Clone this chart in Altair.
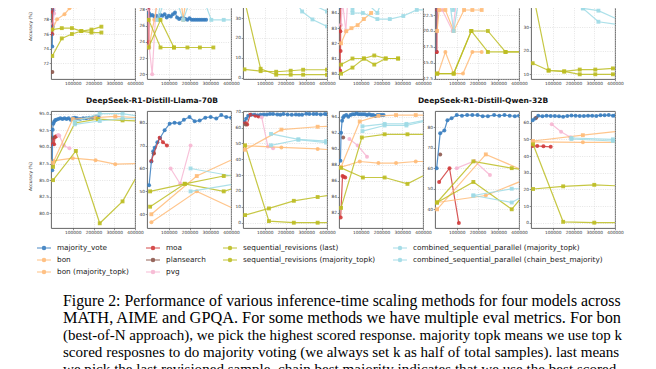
import altair as alt
import pandas as pd

NAMES = {
    "mv": "majority_vote", "bon": "bon", "bont": "bon (majority_topk)", "moa": "moa",
    "ps": "plansearch", "pvg": "pvg", "sl": "sequential_revisions (last)",
    "st": "sequential_revisions (majority_topk)",
    "ct": "combined_sequential_parallel (majority_topk)",
    "cc": "combined_sequential_parallel (chain_best_majority)",
}
COLORS = {"mv": "#3a7ebf", "bon": "#ffbb78", "bont": "#ffbb78", "moa": "#d13b3b",
          "ps": "#8c564b", "pvg": "#f7b6d2", "sl": "#bcbd22", "st": "#bcbd22",
          "ct": "#9edae5", "cc": "#9edae5"}
LEGEND_ROWS = ["mv", "moa", "sl", "ct", "bon", "ps", "st", "cc", "bont", "pvg"]
SQUARES = ["bont", "sl", "st", "ct", "cc"]

X_TICKS = [100000, 200000, 300000, 400000]

# ---------------- top row (bottom parts visible) ----------------
T1 = {
    "mv": [[1000, 3000, 6000, 10000, 20000], [74.3, 77.0, 79.2, 80.4, 82.0]],
    "moa": [[1500, 3000, 6000], [76.0, 79.0, 82.0]],
    "ps": [[1500], [70.8]],
    "pvg": [[5000, 10000, 20000], [77.4, 78.8, 81.0]],
    "bon": [[2000, 24000, 60000, 84000, 117000, 149000], [76.6, 78.0, 78.7, 79.5, 79.8, 80.0]],
    "ct": [[40000, 80000], [80.2, 81.5]],
    "sl": [[1000, 47000, 96000, 141000, 190000, 238000], [73.0, 75.4, 76.0, 76.4, 76.2, 76.2]],
    "st": [[1000, 47000, 96000, 141000, 190000, 238000], [76.6, 76.8, 76.8, 76.4, 76.6, 77.0]],
}
T2 = {
    "mv": [[2000, 5000, 10000, 20000, 30000, 40000, 50000, 60000, 70000, 80000, 90000, 100000,
            110000, 120000, 130000, 140000, 150000, 160000, 170000, 180000, 190000, 200000,
            210000, 220000, 230000, 240000, 250000, 260000, 270000, 280000],
           [28.5, 27.5, 27.2, 27.3, 27.1, 27.2, 27.0, 27.3, 27.2, 27.4, 27.0, 27.2, 27.1, 27.4,
            27.6, 27.0, 26.8, 26.9, 27.0, 26.8, 26.7, 26.9, 26.7, 26.7, 26.7, 26.7, 26.7, 26.7,
            26.7, 26.7]],
    "moa": [[1500, 2500, 3500, 4500, 5500, 6500], [26.7, 23.3, 28.5, 24.0, 29.5, 31.0]],
    "pvg": [[3000, 6000, 20000, 35000, 45000], [28.0, 23.3, 20.0, 26.7, 30.5]],
    "bon": [[5000, 30000, 60000], [23.5, 26.7, 31.0]],
    "bont": [[150000, 170000, 190000], [31.0, 26.7, 31.0]],
    "ct": [[50000, 105000, 170000, 235000, 305000, 365000, 420000],
           [26.7, 31.5, 26.7, 31.5, 26.7, 26.7, 26.7]],
    "cc": [[45000, 75000], [26.7, 30.5]],
    "sl": [[3000, 60000, 125000, 190000, 250000, 315000], [26.7, 23.3, 23.3, 23.3, 23.3, 23.3]],
    "st": [[3000, 60000, 125000], [23.3, 26.7, 23.3]],
}
T3 = {
    "ps": [[2000], [36.7]],
    "sl": [[0, 80000, 155000, 225000, 285000, 400000], [40.0, 4.5, 1.5, 1.5, 1.5, 1.5]],
    "st": [[2000, 80000, 155000, 225000, 285000, 400000], [4.2, 3.3, 3.0, 3.5, 4.0, 4.0]],
    "ct": [[160000, 220000, 280000, 330000, 400000], [42.0, 37.3, 36.5, 36.8, 33.3]],
    "cc": [[200000, 280000, 330000, 400000], [46.0, 33.3, 29.3, 25.8]],
}
T4 = {
    "mv": [[1000, 3000], [84.4, 86.0]],
    "moa": [[1000, 1500, 2500, 3500], [80.2, 82.8, 81.5, 85.5]],
    "ps": [[2000], [84.6]],
    "pvg": [[4000, 12000, 28000, 40000], [83.2, 84.7, 82.8, 85.5]],
    "bont": [[5000, 30000, 55000, 85000, 115000, 150000], [82.0, 82.8, 83.0, 83.2, 83.6, 84.0]],
    "cc": [[60000, 110000, 180000, 240000, 305000, 370000, 420000],
           [84.0, 84.0, 83.6, 83.6, 83.8, 84.2, 84.2]],
    "ct": [[60000, 100000, 140000, 180000, 220000], [84.2, 85.2, 84.5, 84.0, 85.5]],
    "sl": [[5000, 60000, 115000, 165000, 220000, 280000], [80.6, 81.0, 81.0, 81.2, 81.0, 81.0]],
    "st": [[5000, 60000, 115000, 165000, 220000, 280000], [80.0, 80.4, 81.0, 80.6, 81.0, 81.0]],
}
T5 = {
    "mv": [[1000, 2000, 3000, 5000], [16.7, 20.0, 23.3, 26.7]],
    "moa": [[2000, 4000, 5000, 7000], [16.7, 16.7, 23.3, 26.7]],
    "ps": [[8000], [23.3]],
    "pvg": [[10000, 30000, 80000, 100000], [23.3, 23.3, 20.0, 25.0]],
    "bon": [[10000, 45000, 85000, 130000, 175000, 220000], [13.3, 16.7, 13.3, 13.3, 16.7, 16.7]],
    "bont": [[5000, 15000, 45000, 85000, 135000, 175000, 220000],
             [20.0, 23.3, 23.3, 20.0, 23.3, 23.3, 23.3]],
    "ct": [[82000, 100000], [23.3, 26.0]],
    "cc": [[60000, 85000, 115000], [26.0, 20.0, 26.0]],
    "sl": [[5000, 85000, 170000, 250000, 335000, 430000], [13.3, 13.3, 20.0, 20.0, 16.7, 16.7]],
    "st": [[5000, 85000, 170000, 250000, 335000, 430000], [13.3, 13.3, 20.0, 16.7, 16.7, 16.7]],
}
T6 = {
    "sl": [[3000, 80000, 155000, 230000, 305000, 390000, 430000],
           [45.0, 11.6, 11.2, 10.0, 10.0, 10.0, 10.0]],
    "st": [[3000, 80000, 155000, 230000, 305000, 390000, 430000],
           [14.7, 11.6, 11.2, 12.0, 12.0, 12.5, 12.7]],
    "ct": [[190000, 245000, 320000, 420000], [43.0, 38.0, 37.0, 33.0]],
    "cc": [[245000, 320000, 420000], [38.0, 32.3, 31.0]],
}

# ---------------- bottom row ----------------
B1 = {
    "mv": [[1000, 3000, 6000, 10000, 15000, 20000, 30000, 40000, 50000, 60000, 70000, 80000,
            90000, 100000, 110000, 120000, 135000, 150000, 165000, 180000, 195000, 210000, 225000],
           [86.5, 92.6, 93.5, 93.8, 94.0, 94.1, 94.2, 94.3, 94.2, 94.3, 94.2, 94.3, 94.1, 94.3,
            94.4, 94.3, 94.2, 94.3, 94.3, 94.4, 94.4, 94.5, 94.5]],
    "moa": [[2000, 5000, 10000, 15000, 20000], [90.4, 91.4, 90.4, 91.5, 91.6]],
    "ps": [[3000, 8000], [91.4, 91.4]],
    "pvg": [[30000, 35000, 57000, 84000], [91.8, 91.7, 90.2, 89.8]],
    "bon": [[5000, 100000, 210000, 305000, 420000], [87.9, 88.3, 88.0, 87.4, 87.5]],
    "bont": [[5000, 100000, 210000, 305000, 420000], [87.6, 94.2, 94.4, 94.6, 94.4]],
    "sl": [[5000, 115000, 230000, 340000, 460000], [85.0, 89.4, 78.5, 81.8, 88.4]],
    "st": [[5000, 110000, 220000, 340000, 420000], [87.0, 93.6, 94.2, 94.0, 93.9]],
    "ct": [[110000, 230000, 340000, 420000], [93.8, 95.0, 95.0, 94.6]],
    "cc": [[110000, 230000, 340000, 420000], [93.4, 93.9, 94.3, 94.2]],
}
B2 = {
    "mv": [[5000, 16000, 25000, 32000, 45000, 58000, 80000, 104000, 128000, 152000, 173000,
            200000, 225000, 249000, 276000, 302000, 329000, 353000, 377000, 401000],
           [52.7, 63.0, 67.5, 69.0, 71.5, 73.3, 76.7, 79.5, 80.0, 79.8, 81.3, 82.5, 80.6, 80.9,
            82.2, 82.5, 81.8, 83.3, 82.5, 82.2]],
    "moa": [[16000, 28000, 56000, 72000, 91000], [63.3, 66.5, 73.4, 71.5, 70.0]],
    "ps": [[27000], [66.7]],
    "pvg": [[109000, 155000, 205000], [60.0, 53.3, 70.0]],
    "bon": [[16000, 235000, 450000], [36.5, 50.0, 40.9]],
    "bont": [[16000, 235000, 450000], [40.0, 56.7, 65.7]],
    "sl": [[10000, 177000, 365000, 420000], [50.0, 53.3, 56.7, 57.2]],
    "st": [[10000, 177000, 365000, 420000], [43.3, 53.3, 50.0, 51.5]],
    "ct": [[205000, 420000], [60.0, 56.5]],
    "cc": [[205000, 420000], [50.0, 53.2]],
}
B3 = {
    "mv": [[2000, 10000, 20000, 35000, 50000, 65000, 80000, 95000, 110000, 125000, 140000,
            160000, 175000, 190000, 210000, 230000, 250000, 265000, 280000, 300000, 315000,
            335000, 350000, 370000, 390000, 400000],
           [63.5, 65.5, 67.5, 68.0, 68.0, 67.8, 68.0, 68.3, 68.2, 68.5, 68.5, 68.3, 68.0, 68.5,
            68.2, 68.0, 68.2, 68.0, 68.0, 68.7, 68.5, 68.5, 68.6, 68.3, 68.5, 68.4]],
    "moa": [[5000, 15000, 30000, 55000, 70000], [63.0, 62.0, 68.0, 67.5, 67.0]],
    "ps": [[8000], [62.0]],
    "pvg": [[85000, 115000, 140000], [66.5, 48.0, 47.0]],
    "bon": [[5000, 180000, 355000, 420000], [48.5, 47.5, 46.5, 46.0]],
    "bont": [[5000, 180000, 355000, 420000], [46.0, 58.7, 60.5, 60.8]],
    "sl": [[5000, 120000, 240000, 355000, 420000], [48.8, 1.0, 0.0, 0.0, 0.0]],
    "st": [[5000, 120000, 240000, 355000, 420000], [4.8, 9.0, 13.8, 16.2, 17.5]],
    "ct": [[130000, 262000, 396000, 420000], [56.0, 52.6, 51.5, 51.2]],
    "cc": [[130000, 262000, 396000, 420000], [48.8, 52.3, 50.5, 50.3]],
}
B4 = {
    "mv": [[2000, 5000, 10000, 15000, 20000, 30000, 40000, 50000, 60000, 70000, 80000, 90000,
            100000, 110000, 120000, 130000, 140000, 150000, 160000, 170000, 180000, 190000,
            200000, 210000],
           [88.5, 92.0, 93.5, 93.9, 94.1, 94.2, 94.0, 94.2, 94.3, 94.3, 94.4, 94.3, 94.3, 94.3,
            94.3, 94.2, 94.3, 94.2, 94.2, 94.1, 94.2, 94.2, 94.2, 94.2]],
    "ps": [[15000], [91.4]],
    "moa": [[3000, 12000, 18000, 25000], [81.4, 86.6, 86.5, 86.4]],
    "pvg": [[45000, 85000, 130000], [91.2, 90.4, 89.0]],
    "bon": [[5000, 95000, 185000, 270000, 365000, 420000], [87.7, 88.4, 88.2, 88.2, 88.4, 88.4]],
    "bont": [[5000, 95000, 185000, 270000, 365000, 420000], [87.7, 93.4, 94.1, 94.2, 94.2, 94.2]],
    "sl": [[5000, 110000, 215000, 325000, 430000], [87.6, 86.4, 86.4, 85.6, 87.0]],
    "st": [[5000, 105000, 215000, 325000, 430000], [82.6, 91.4, 91.8, 91.8, 91.8]],
    "ct": [[108000, 215000, 320000, 420000], [92.8, 93.1, 93.1, 93.6]],
    "cc": [[108000, 215000, 320000, 420000], [92.2, 92.9, 92.9, 93.5]],
}
B5 = {
    "mv": [[3000, 20000, 40000, 55000, 75000, 100000, 125000, 150000, 175000, 200000, 225000,
            250000, 280000, 305000, 330000, 355000, 380000, 400000],
           [60.0, 77.0, 78.3, 83.3, 84.3, 85.8, 85.5, 85.8, 85.8, 85.8, 85.3, 85.3, 85.8, 85.5,
            85.8, 85.5, 85.3, 85.5]],
    "ps": [[20000], [66.7]],
    "moa": [[15000, 65000, 110000], [53.3, 60.0, 33.3]],
    "pvg": [[100000, 185000, 260000], [60.0, 63.5, 56.7]],
    "bon": [[5000, 240000, 430000], [43.3, 46.7, 54.5]],
    "bont": [[5000, 240000, 430000], [40.0, 66.7, 58.5]],
    "sl": [[5000, 180000, 365000, 430000], [43.3, 63.3, 60.0, 59.1]],
    "st": [[5000, 180000, 365000, 430000], [43.3, 53.3, 40.0, 48.0]],
    "ct": [[180000, 365000, 430000], [46.7, 50.0, 50.0]],
    "cc": [[180000, 365000, 430000], [46.7, 43.3, 47.0]],
}
B6 = {
    "mv": [[3000, 15000, 30000, 50000, 70000, 90000, 110000, 130000, 150000, 170000, 190000,
            210000, 230000, 250000, 270000, 290000, 310000, 330000, 350000, 370000, 390000, 400000],
           [61.5, 62.5, 64.2, 63.8, 64.2, 64.0, 64.0, 63.8, 63.6, 64.0, 64.3, 64.2, 64.0, 64.0,
            64.2, 64.1, 64.0, 64.5, 64.4, 64.6, 64.2, 64.3]],
    "ps": [[20000], [63.0]],
    "moa": [[3000, 25000, 55000, 90000], [46.0, 46.0, 45.8, 45.5]],
    "pvg": [[95000, 140000, 185000], [59.0, 54.5, 51.3]],
    "bon": [[5000, 245000, 430000], [48.5, 48.2, 48.2]],
    "bont": [[5000, 245000, 430000], [49.0, 52.5, 55.0]],
    "sl": [[5000, 150000, 300000, 430000], [47.0, 0.5, 0.0, 0.0]],
    "st": [[5000, 150000, 300000, 430000], [20.2, 21.8, 22.7, 22.0]],
    "ct": [[190000, 390000, 430000], [50.8, 50.0, 50.0]],
    "cc": [[190000, 390000, 430000], [50.2, 49.0, 49.0]],
}

TOP_DOMAINS = [[69.86, 82.14], [19.42, 30.5], [-0.65, 44.6], [79.65, 85.58], [12.45, 26.6], [8.0, 46.2]]
TOP_TICKS = [[72, 74, 76, 78, 80], [20, 22, 24, 26, 28, 30], [0, 10, 20, 30, 40],
             [80, 81, 82, 83, 84, 85], [12.5, 15, 17.5, 20, 22.5, 25], [10, 20, 30, 40]]
TOP_FMT = ["d", "d", "d", "d", ".1f", "d"]
BOT_DOMAINS = [[77.79, 95.41], [34.0, 85.1], [-3.34, 70.44], [80.09, 94.71], [30.9, 87.8], [-3.2, 67.0]]
BOT_TICKS = [[80, 82.5, 85, 87.5, 90, 92.5, 95], [40, 50, 60, 70, 80], [0, 10, 20, 30, 40, 50, 60, 70],
             [82, 84, 86, 88, 90, 92, 94], [40, 50, 60, 70, 80], [0, 10, 20, 30, 40, 50, 60]]
BOT_FMT = [".1f", "d", "d", "d", "d", "d"]
MODEL_TITLES = ["DeepSeek-R1-Distill-Llama-70B", "DeepSeek-R1-Distill-Qwen-32B"]

CAPTION = [
    "Figure 2: Performance of various inference-time scaling methods for four models across",
    "MATH, AIME and GPQA. For some methods we have multiple eval metrics.  For bon",
    "(best-of-N approach), we pick the highest scored response. majority topk means we use top k",
    "scored resposnes to do majority voting (we always set k as half of total samples). last means",
    "we pick the last revisioned sample. chain best majority indicates that we use the best scored",
]

FONT = "DejaVu Sans"
PW = 84
SYMBOL = "M-1,0L1,0M-0.24,0A0.24,0.24 0 1 1 0.24,0A0.24,0.24 0 1 1 -0.24,0Z"

color_scale = alt.Scale(domain=[NAMES[k] for k in LEGEND_ROWS],
                        range=[COLORS[k] for k in LEGEND_ROWS])
LEGEND = alt.Legend(title=None, orient="none", legendX=-15, legendY=251, columns=4,
                    direction="horizontal",
                    symbolType=SYMBOL, symbolSize=196, symbolStrokeWidth=1.1,
                    labelFontSize=7.3, labelFont=FONT, labelColor="#222",
                    columnPadding=14, rowPadding=-2, labelOffset=5, labelLimit=400)


def panel(data, dom, ticks, fmt, height, ytitle=None, title_y=None, title=None, tdx=0):
    rows = []
    for key, (xs, ys) in data.items():
        for i, (xv, yv) in enumerate(zip(xs, ys)):
            rows.append({"method": NAMES[key], "x": xv, "y": yv, "i": i,
                         "sq": key in SQUARES})
    df = pd.DataFrame(rows)
    yaxis_kw = dict(values=ticks, format=fmt, labelFontSize=4.3, labelFont=FONT,
                    labelColor="#333", tickSize=1.8, tickWidth=0.6, tickColor="#444",
                    labelPadding=0.8, domain=False, gridColor="#d4d4d4",
                    gridDash=[1, 1.3], gridWidth=0.6, labelOverlap=False)
    if ytitle:
        yaxis_kw.update(title=ytitle, titleFontSize=4.4, titleFont=FONT,
                        titleFontWeight="normal", titleColor="#333", titleX=-19,
                        titleY=title_y)
    else:
        yaxis_kw.update(title=None)
    xenc = alt.X("x:Q", scale=alt.Scale(domain=[-5000, 400000], nice=False, zero=False),
                 axis=alt.Axis(values=X_TICKS, format="d", labelFontSize=4.3, labelFont=FONT,
                               labelColor="#333", tickSize=1.8, tickWidth=0.6,
                               tickColor="#444", labelPadding=0.8, domain=False,
                               gridColor="#d4d4d4", gridDash=[1, 1.3], gridWidth=0.6,
                               labelOverlap=False, labelFlush=False, title=None))
    yenc = alt.Y("y:Q", scale=alt.Scale(domain=dom, nice=False, zero=False),
                 axis=alt.Axis(**yaxis_kw))
    colr = alt.Color("method:N", scale=color_scale, legend=LEGEND)
    base = alt.Chart(df)
    circles = base.transform_filter("!datum.sq").mark_point(
        filled=True, shape="circle", size=16, clip=True, opacity=0.9).encode(
        x=xenc, y=yenc, color=colr)
    lines = base.mark_line(clip=True, strokeWidth=1.2, opacity=0.85).encode(
        x=xenc, y=yenc, color=colr, order="i:Q")
    squares = base.transform_filter("datum.sq").mark_point(
        filled=True, shape="square", size=15, clip=True, opacity=0.9).encode(
        x=xenc, y=yenc, color=colr)
    props = dict(width=PW, height=height,
                 view=alt.ViewBackground(stroke="#555", strokeWidth=0.9))
    if title:
        props["title"] = alt.TitleParams(title, fontSize=7.5, font=FONT, fontWeight="bold",
                                         color="#111", anchor="middle", frame="group",
                                         dx=tdx, offset=7)
    return alt.layer(circles, lines, squares).properties(**props)


TOPS = [T1, T2, T3, T4, T5, T6]
BOTS = [B1, B2, B3, B4, B5, B6]

cells = []
for j, d in enumerate(TOPS):
    cells.append(panel(d, TOP_DOMAINS[j], TOP_TICKS[j], TOP_FMT[j], 90,
                       ytitle="Accuracy (%)" if j == 0 else None, title_y=37))
for j, d in enumerate(BOTS):
    cells.append(panel(d, BOT_DOMAINS[j], BOT_TICKS[j], BOT_FMT[j], 117,
                       ytitle="Accuracy (%)" if j == 0 else None, title_y=65,
                       title=MODEL_TITLES[0] if j == 1 else (MODEL_TITLES[1] if j == 4 else None),
                       tdx=-37 if j == 1 else 6))

grid = alt.concat(*cells, columns=6, spacing={"row": 32, "column": 12}, bounds="flush")

# caption: one text mark per line; font sizes chosen so each line fills the text block
LINE_SIZES = [15.8, 16.3, 15.0, 15.1, 15.1]
FH = 140
cap_df = pd.DataFrame({"row": list(range(len(CAPTION))), "text": CAPTION})
yscale = alt.Scale(domain=[-68 / 17, (FH - 68) / 17], reverse=True, nice=False, zero=False)
cap_layers = []
for i, fs in enumerate(LINE_SIZES):
    cap_layers.append(
        alt.Chart(cap_df).transform_filter(f"datum.row == {i}").mark_text(
            align="left", baseline="alphabetic", font="Liberation Serif", fontSize=fs,
            color="#000"
        ).encode(x=alt.value(12), y=alt.Y("row:Q", axis=None, scale=yscale), text="text:N")
    )
caption = alt.layer(*cap_layers).properties(
    width=560, height=FH, view=alt.ViewBackground(stroke=None))

chart = alt.vconcat(grid, caption, spacing=2).properties(
    padding={"left": 18, "top": -20, "right": 0, "bottom": 0}
).configure_view(stroke=None)

chart.save("out.html", embed_options={"renderer": "svg", "actions": False})
